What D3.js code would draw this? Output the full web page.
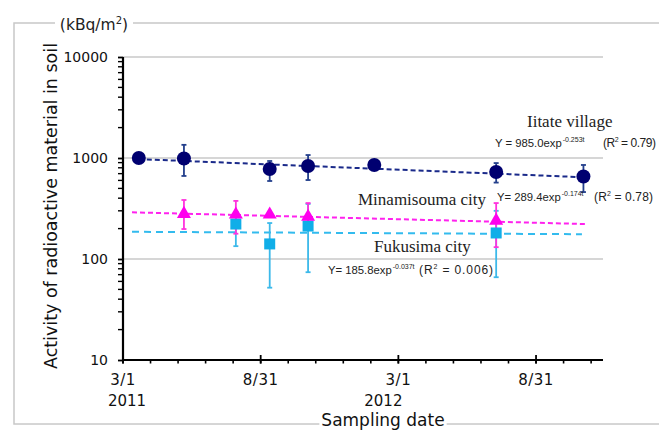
<!DOCTYPE html>
<html><head><meta charset="utf-8">
<script src="https://cdn.jsdelivr.net/npm/d3@7"></script>
<style>body{margin:0;background:#fff}svg{display:block}</style>
</head><body>
<script>
// ---- data (days since 2011-03-01) ----
const yTickValues = [10, 100, 1000, 10000];
const yTickLabels = ["10", "100", "1000", "10000"];
const xMajorDays = [0, 183, 366, 549];
const xMajorLabels = ["3/1", "8/31", "3/1", "8/31"];
const xYearLabels = ["2011", "", "2012", ""];

const iitateDays = [21, 81, 195, 246, 334, 496, 612];
const iitateValues = [1000, 990, 778, 834, 853, 727, 655];
const iitateHigh = [null, 1350, 934, 1070, null, 891, 853];
const iitateLow = [null, 664, 592, 605, null, 571, 460];

const minamiDays = [81, 150, 195, 246, 496];
const minamiValues = [280, 276, 276, 262, 240];
const minamiHigh = [384, 376, null, 358, 358];
const minamiLow = [198, 178, null, 205, 131];

const fukuDays = [150, 195, 246, 496];
const fukuValues = [222, 141, 212, 181];
const fukuHigh = [292, 227, 351, 300];
const fukuLow = [134, 52, 74, 66];

const iitateTrendDays = [21, 612], iitateTrendValues = [975, 645];
const minamiTrendDays = [12, 614], minamiTrendValues = [290, 222];
const fukuTrendDays = [12, 610], fukuTrendValues = [186, 176];

const W = 659, H = 430;
const svg = d3.select("body").append("svg").attr("width", W).attr("height", H);

const x = d3.scaleLinear().domain([0, 638]).range([123, 603]);
const y = d3.scaleLog().domain([10, 10000]).range([360, 57]);

// outer frame
svg.append("rect").attr("x", 14).attr("y", 23).attr("width", 700).attr("height", 401)
  .attr("fill", "none").attr("stroke", "#c8c8c8").attr("stroke-width", 1.5);

// gridlines
svg.append("g").selectAll("line").data(yTickValues.slice(1)).join("line")
  .attr("x1", x(0)).attr("x2", x(638)).attr("y1", d => y(d)).attr("y2", d => y(d))
  .attr("stroke", "#d6d6d6").attr("stroke-width", 1.8);

// y axis
const yAxis = d3.axisLeft(y).tickValues(yTickValues).tickFormat((d, i) => yTickLabels[i]).tickSize(5).tickPadding(10);
const gy = svg.append("g").attr("transform", `translate(${x(0)},0)`).call(yAxis);
gy.select(".domain").attr("stroke", "#000").attr("stroke-width", 2.2).attr("d", `M0,${y(10)+1}V${y(10000)}`);
gy.selectAll(".tick line").attr("stroke", "#000").attr("stroke-width", 1.8).attr("x2", -5);
gy.selectAll(".tick text").attr("font-family", "DejaVu Sans").attr("font-size", 14).attr("fill", "#111");
// minor y ticks
const minor = [];
for (let dec = 10; dec < 10000; dec *= 10) for (let k = 2; k <= 9; k++) minor.push(dec * k);
svg.append("g").selectAll("line").data(minor).join("line")
  .attr("x1", x(0) - 5).attr("x2", x(0)).attr("y1", d => y(d)).attr("y2", d => y(d))
  .attr("stroke", "#000").attr("stroke-width", 1.4);

// x axis
const xMinor = d3.range(0, 638, 183 / 5);
const gx = svg.append("g").attr("transform", `translate(0,${y(10)})`);
gx.append("line").attr("x1", x(0)).attr("x2", x(638)).attr("stroke", "#000").attr("stroke-width", 2.2);
gx.selectAll("line.mn").data(xMinor).join("line").attr("class", "mn")
  .attr("x1", d => x(d)).attr("x2", d => x(d)).attr("y1", 0).attr("y2", 3.5)
  .attr("stroke", "#000").attr("stroke-width", 1.6);
gx.selectAll("line.mj").data(xMajorDays).join("line").attr("class", "mj")
  .attr("x1", d => x(d)).attr("x2", d => x(d)).attr("y1", -5).attr("y2", 3.5)
  .attr("stroke", "#000").attr("stroke-width", 1.8);
gx.selectAll("text.ml").data(xMajorDays).join("text").attr("class", "ml")
  .attr("x", d => x(d)).attr("y", 25).attr("text-anchor", "middle")
  .attr("font-family", "DejaVu Sans").attr("font-size", 15).attr("letter-spacing", 0.5).attr("fill", "#111")
  .text((d, i) => xMajorLabels[i]);
gx.selectAll("text.yl").data(xMajorDays).join("text").attr("class", "yl")
  .attr("x", (d, i) => x(d) + (i === 0 ? 4 : -15)).attr("y", 46).attr("text-anchor", "middle")
  .attr("font-family", "DejaVu Sans").attr("font-size", 15).attr("fill", "#111")
  .text((d, i) => xYearLabels[i]);

// axis titles
const stb = svg.append("rect").attr("fill", "#fff");
const st = svg.append("text").attr("x", 383).attr("y", 426).attr("text-anchor", "middle")
  .attr("font-family", "DejaVu Sans").attr("font-size", 17).attr("fill", "#111").text("Sampling date");
const bb = st.node().getBBox();
stb.attr("x", bb.x - 2).attr("y", 418).attr("width", bb.width + 4).attr("height", 12);
svg.append("text").attr("transform", "translate(57,206) rotate(-90)").attr("text-anchor", "middle")
  .attr("font-family", "DejaVu Sans").attr("font-size", 17.5).attr("fill", "#111")
  .attr("textLength", 326).attr("lengthAdjust", "spacingAndGlyphs")
  .text("Activity of radioactive material in soil");
svg.append("rect").attr("x", 55).attr("y", 17).attr("width", 78).attr("height", 11).attr("fill", "#fff");
const unit = svg.append("text").attr("x", 94).attr("y", 30).attr("text-anchor", "middle")
  .attr("font-family", "DejaVu Sans").attr("font-size", 15.5).attr("fill", "#222");
unit.append("tspan").text("(kBq/m");
unit.append("tspan").attr("font-size", 10).attr("dy", -6).text("2");
unit.append("tspan").attr("dy", 6).text(")");

// trend lines
const line = d3.line().x(d => x(d[0])).y(d => y(d[1]));
function trend(days, vals, color, dash) {
  svg.append("path").attr("d", line(days.map((d, i) => [d, vals[i]])))
    .attr("fill", "none").attr("stroke", color).attr("stroke-width", 2).attr("stroke-dasharray", dash);
}
trend(fukuTrendDays, fukuTrendValues, "#33bbee", "7,5");
trend(minamiTrendDays, minamiTrendValues, "#ff22ee", "5,3");
trend(iitateTrendDays, iitateTrendValues, "#1a2a8a", "5,3");

// error bars
function errs(days, vals, hi, lo, color) {
  const g = svg.append("g").attr("stroke", color).attr("stroke-width", 1.8);
  days.forEach((d, i) => {
    if (hi[i] != null) {
      g.append("line").attr("x1", x(d)).attr("x2", x(d)).attr("y1", y(hi[i])).attr("y2", y(vals[i]));
      g.append("line").attr("x1", x(d) - 2.5).attr("x2", x(d) + 2.5).attr("y1", y(hi[i])).attr("y2", y(hi[i]));
    }
    if (lo[i] != null) {
      g.append("line").attr("x1", x(d)).attr("x2", x(d)).attr("y1", y(lo[i])).attr("y2", y(vals[i]));
      g.append("line").attr("x1", x(d) - 2.5).attr("x2", x(d) + 2.5).attr("y1", y(lo[i])).attr("y2", y(lo[i]));
    }
  });
}
errs(fukuDays, fukuValues, fukuHigh, fukuLow, "#3cb9ea");
errs(minamiDays, minamiValues, minamiHigh, minamiLow, "#ff33dd");
errs(iitateDays, iitateValues, iitateHigh, iitateLow, "#233f8c");

// markers
svg.append("g").selectAll("rect").data(fukuDays).join("rect")
  .attr("x", d => x(d) - 5.5).attr("y", (d, i) => y(fukuValues[i]) - 5.5).attr("width", 11).attr("height", 11)
  .attr("fill", "#10aee8");
const tri = d3.symbol().type(d3.symbolTriangle).size(85);
svg.append("g").selectAll("path").data(minamiDays).join("path")
  .attr("transform", (d, i) => `translate(${x(d)},${y(minamiValues[i])})`).attr("d", tri)
  .attr("fill", "#ff00ee");
svg.append("g").selectAll("circle").data(iitateDays).join("circle")
  .attr("cx", d => x(d)).attr("cy", (d, i) => y(iitateValues[i])).attr("r", 7)
  .attr("fill", "#000070");

// annotations
function serif(txt, cx, by) {
  svg.append("text").attr("x", cx).attr("y", by).attr("font-family", "Liberation Serif")
    .attr("font-size", 17).attr("fill", "#222").text(txt);
}
serif("Iitate village", 527, 127);
serif("Minamisouma city", 358, 205);
serif("Fukusima city", 374, 252);

function formula(by, main, mx, sup, r2, rx, rl) {
  const t = svg.append("text").attr("x", mx).attr("y", by).attr("font-family", "Liberation Sans")
    .attr("font-size", 11.3).attr("fill", "#222");
  t.append("tspan").text(main);
  t.append("tspan").attr("font-size", 7).attr("dy", -5.5).attr("dx", 1).text(sup);
  const r = svg.append("text").attr("x", rx).attr("y", by).attr("font-family", "Liberation Sans")
    .attr("font-size", 12).attr("fill", "#222").attr("textLength", rl).attr("lengthAdjust", "spacing");
  r.append("tspan").text("(R");
  r.append("tspan").attr("font-size", 7).attr("dy", -5).text("2");
  r.append("tspan").attr("dy", 5).text(" = " + r2 + ")");
}
formula(147, "Y = 985.0exp", 495, "-0.253t", "0.79", 603, 53);
formula(201, "Y= 289.4exp", 497, "-0.174t", "0.78", 594, 59);
formula(274, "Y= 185.8exp", 328, "-0.037t", "0.006", 419, 74);
</script>
</body></html>
